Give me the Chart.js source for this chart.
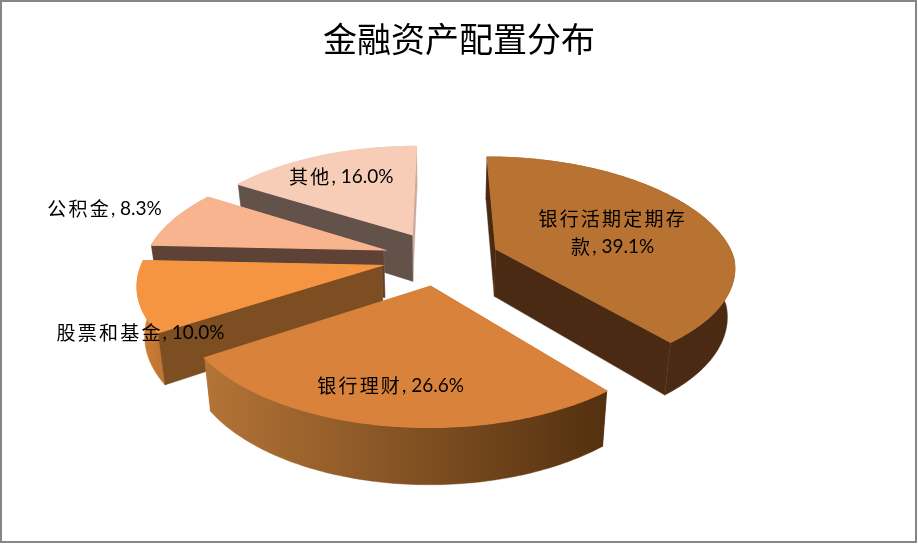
<!DOCTYPE html>
<html>
<head>
<meta charset="utf-8" />
<title>金融资产配置分布</title>
<script src="https://cdn.jsdelivr.net/npm/chart.js@4/dist/chart.umd.min.js"></script>
<style>
    html, body { margin: 0; padding: 0; background: #fff; }
    canvas { display: block; }
</style>
</head>
<body>
<canvas id="pie" width="918" height="544"></canvas>
<script>
    const categories = ['银行活期定期存款', '银行理财', '股票和基金', '公积金', '其他'];
    const shares = [39.1, 26.6, 10.0, 8.3, 16.0];
    const labelLines = [['银行活期定期存', '款, 39.1%'], ['银行理财, 26.6%'], ['股票和基金, 10.0%'], ['公积金, 8.3%'], ['其他, 16.0%']];

    const topColors = ['#B87333', '#D9823B', '#F59542', '#F7B48F', '#F7CDB8'];
    const startWallColors = ['#4A2A13', '#53300F', '#7C4E22', '#5E4235', '#62524A'];
    const endWallColors = ['#4A2A13', '#B47437', '#C87C38', '#C9835A', '#C9A99B'];
    const outerStops = [
        ['#4A2A13', '#4A2A13'],
        ['#B47437', '#53300F'],
        ['#D58338', '#C07632'],
        ['#C9835A', '#C9835A'],
        ['#C9A99B', '#C9A99B']
    ];
    const drawOrder = [4, 3, 2, 0, 1];
    // label centre relative to the slice tip
    const labelOffsets = [[117, -16], [-40, 100], [-241, 67], [-279, -41], [-71, -58]];

    // view settings for the tilted pie
    const cx = 440, cy = 258, radius = 238, explode = 60, depth = 48;
    const tilt = 0.458, perspY = 0.00066, perspXBack = 0.000773, perspXFront = 0.00062;
    const wallPersp = 0.00055, wallShrink = 0.025;

    // isTop: 1 for the upper face, 0 for the lower rim
    function project(x, v, isTop) {
        const dy = 1 - v * perspY;
        const dx = 1 - v * (v > 0 ? perspXFront : perspXBack);
        const topY = cy + tilt * v / dy;
        const px = x / dx;
        if (isTop) return { x: cx + px, y: topY };
        return { x: cx + px * (1 - wallShrink), y: topY + depth / (1 - v * wallPersp) };
    }

    function rimPoints(arc, isTop, ox, ov) {
        const pts = [];
        const steps = Math.max(8, Math.ceil((arc.endAngle - arc.startAngle) * 60));
        for (let i = 0; i <= steps; i++) {
            const a = arc.startAngle + (arc.endAngle - arc.startAngle) * i / steps;
            pts.push(project(ox + radius * Math.cos(a), ov + radius * Math.sin(a), isTop));
        }
        return pts;
    }

    function fillPath(ctx, pts, fill, seal) {
        ctx.beginPath();
        pts.forEach((p, i) => i ? ctx.lineTo(p.x, p.y) : ctx.moveTo(p.x, p.y));
        ctx.closePath();
        ctx.fillStyle = fill;
        ctx.fill();
        ctx.strokeStyle = fill;
        ctx.lineWidth = seal;
        ctx.stroke();
    }

    function sliceOffset(arc) {
        const mid = (arc.startAngle + arc.endAngle) / 2;
        return [explode * Math.cos(mid), explode * Math.sin(mid)];
    }

    function drawSlice(ctx, arc, i) {
        const [ox, ov] = sliceOffset(arc);
        const topRim = rimPoints(arc, 1, ox, ov);
        const lowRim = rimPoints(arc, 0, ox, ov);
        const tipTop = project(ox, ov, 1);
        const tipLow = project(ox, ov, 0);
        const last = topRim.length - 1;

        const xs = topRim.map(p => p.x);
        const grad = ctx.createLinearGradient(Math.min(...xs), 0, Math.max(...xs), 0);
        grad.addColorStop(0, outerStops[i][0]);
        grad.addColorStop(1, outerStops[i][1]);

        const walls = [
            { v: ov + radius * Math.sin(arc.startAngle) / 2, fill: startWallColors[i], pts: [tipTop, topRim[0], lowRim[0], tipLow] },
            { v: ov + radius * Math.sin(arc.endAngle) / 2, fill: endWallColors[i], pts: [tipTop, topRim[last], lowRim[last], tipLow] },
            { v: ov + radius * Math.sin((arc.startAngle + arc.endAngle) / 2), fill: grad, pts: topRim.concat(lowRim.slice().reverse()) }
        ];
        walls.sort((a, b) => a.v - b.v).forEach(w => fillPath(ctx, w.pts, w.fill, 0.4));
        // wider seal so no wall colour shows along the back rim
        fillPath(ctx, [tipTop].concat(topRim), topColors[i], 1.2);
    }

    function drawMixedText(ctx, text, x, y) {
        // CJK and latin runs are spaced differently in the reference
        const runs = text.match(/[\u4e00-\u9fff]+|[^\u4e00-\u9fff]+/g);
        const measure = r => {
            const cjk = /[\u4e00-\u9fff]/.test(r);
            ctx.font = cjk ? "19px 'Noto Sans CJK SC'" : "19px Lato, 'Noto Sans'";
            ctx.letterSpacing = cjk ? '2.2px' : '0px';
            return ctx.measureText(r).width;
        };
        const total = runs.reduce((s, r) => s + measure(r), 0);
        let px = x - total / 2;
        runs.forEach(r => {
            const w = measure(r);
            ctx.fillText(r, px, y);
            px += w;
        });
        ctx.letterSpacing = '0px';
    }

    const pie3d = {
        id: 'pie3d',
        beforeDraw(chart) {
            const ctx = chart.ctx;
            ctx.save();
            ctx.strokeStyle = '#868686';
            ctx.lineWidth = 2;
            ctx.strokeRect(1, 1, 915, 541);
            ctx.restore();
        },
        beforeDatasetsDraw(chart) {
            const ctx = chart.ctx;
            const arcs = chart.getDatasetMeta(0).data;
            ctx.save();
            drawOrder.forEach(i => drawSlice(ctx, arcs[i], i));
            ctx.restore();
            return false;
        },
        afterDraw(chart) {
            const ctx = chart.ctx;
            const arcs = chart.getDatasetMeta(0).data;
            ctx.save();
            ctx.fillStyle = '#000';
            ctx.textAlign = 'left';
            ctx.textBaseline = 'middle';
            labelLines.forEach((lines, i) => {
                const [ox, ov] = sliceOffset(arcs[i]);
                const tip = project(ox, ov, 1);
                const lx = tip.x + labelOffsets[i][0];
                const ly = tip.y + labelOffsets[i][1];
                lines.forEach((line, n) => drawMixedText(ctx, line, lx, ly + (n - (lines.length - 1) / 2) * 28));
            });
            ctx.restore();
        }
    };

    new Chart(document.getElementById('pie'), {
        type: 'pie',
        data: {
            labels: categories,
            datasets: [{ data: shares, backgroundColor: topColors, borderWidth: 0 }]
        },
        options: {
            responsive: false,
            animation: false,
            rotation: 0,
            plugins: {
                legend: { display: false },
                tooltip: { enabled: false },
                title: {
                    display: true,
                    text: '金融资产配置分布',
                    color: '#000',
                    font: { family: "'Noto Sans CJK SC'", size: 34, weight: 'normal' },
                    padding: { top: 19, bottom: 10 }
                }
            }
        },
        plugins: [pie3d]
    });
</script>
</body>
</html>
